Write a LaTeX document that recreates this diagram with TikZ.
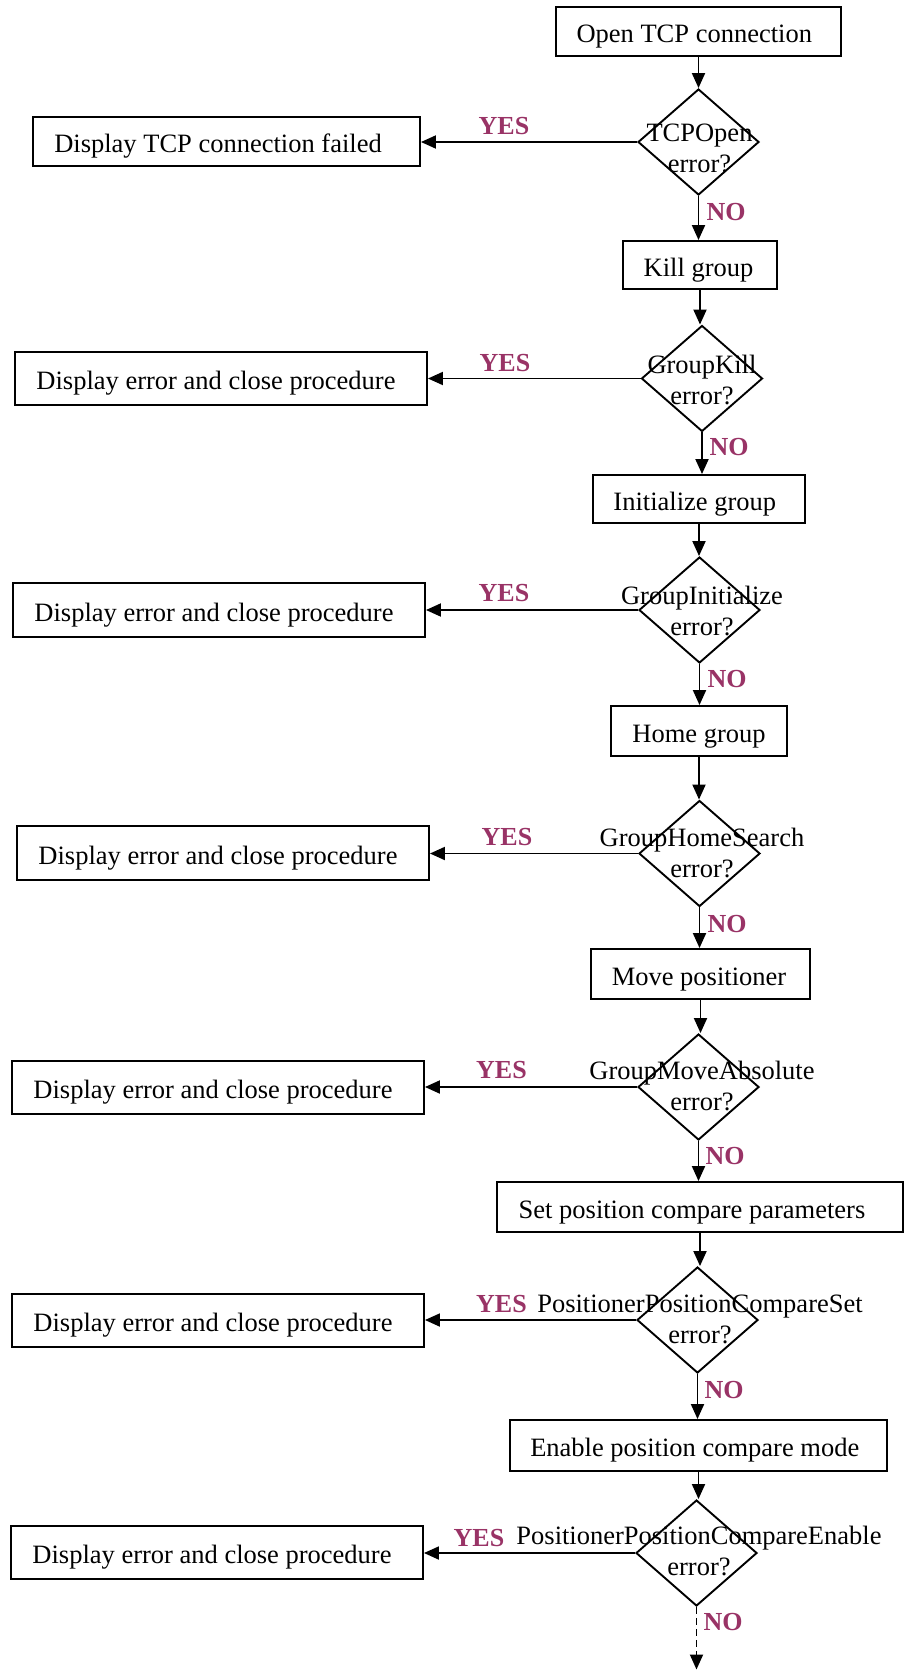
\documentclass[tikz,border=0pt]{standalone}
\usepackage{fontspec}
\setmainfont{Liberation Serif}
\usetikzlibrary{shapes.geometric,arrows.meta}
\definecolor{yn}{HTML}{993366}
\newcommand{\lsh}[1]{\hspace*{#1}}
\tikzset{
  txt/.style={font=\fontsize{26.5}{31}\selectfont},
  box/.style={txt, draw, line width=1.9pt, inner sep=0pt, text height=22pt, text depth=0pt},
  dia/.style={draw, diamond, line width=1.9pt, inner sep=0pt, minimum width=121pt, minimum height=106pt},
  dtext/.style={txt, align=center, inner sep=0pt},
  yn/.style={font=\fontsize{26}{28}\selectfont\bfseries, text=yn, inner sep=0pt},
  arr/.style={line width=1.9pt, -{Triangle[length=15pt,width=13pt]}},
}
\begin{document}
\begin{tikzpicture}[x=1pt,y=-1pt]
\useasboundingbox (0,0) rectangle (904,1670);
% column
\node[box, minimum width=285pt, minimum height=49pt] (b1) at (698.5,31.5) {Open TCP connection\lsh{8.5pt}};
\node[dia] (d1) at (698.5,142) {};
\node[dtext] (t1) at (699.5,148) {TCPOpen\\error?};
\node[box, minimum width=387pt, minimum height=49pt] (f1) at (226.5,141.5) {Display TCP connection failed\lsh{17pt}};
\node[yn] (y1) at (504,126) {YES};
\node[yn] (n1) at (726,212) {NO};

\node[box, minimum width=154pt, minimum height=48pt] (b2) at (700,265) {Kill group\lsh{3pt}};
\node[dia] (d2) at (702,378.5) {};
\node[dtext] (t2) at (702,380) {GroupKill\\error?};
\node[box, minimum width=412pt, minimum height=53pt] (f2) at (221,378.5) {Display error and close procedure\lsh{10pt}};
\node[yn] (y2) at (505,363) {YES};
\node[yn] (n2) at (729,447) {NO};

\node[box, minimum width=212pt, minimum height=48pt] (b3) at (699,499) {Initialize group\lsh{8.5pt}};
\node[dia] (d3) at (699.5,610) {};
\node[dtext] (t3) at (702,611) {GroupInitialize\\error?};
\node[box, minimum width=412pt, minimum height=54pt] (f3) at (219,610) {Display error and close procedure\lsh{10pt}};
\node[yn] (y3) at (504,593) {YES};
\node[yn] (n3) at (727,679) {NO};

\node[box, minimum width=176pt, minimum height=50pt] (b4) at (699,731) {Home group};
\node[dia] (d4) at (699.5,853.5) {};
\node[dtext] (t4) at (702,853) {GroupHomeSearch\\error?};
\node[box, minimum width=412pt, minimum height=54pt] (f4) at (223,853) {Display error and close procedure\lsh{10pt}};
\node[yn] (y4) at (507,837) {YES};
\node[yn] (n4) at (727,924) {NO};

\node[box, minimum width=219pt, minimum height=50pt] (b5) at (700.5,974) {Move positioner\lsh{3pt}};
\node[dia] (d5) at (698.5,1087) {};
\node[dtext] (t5) at (702,1086) {GroupMoveAbsolute\\error?};
\node[box, minimum width=412pt, minimum height=53pt] (f5) at (218,1087.5) {Display error and close procedure\lsh{10pt}};
\node[yn] (y5) at (501.5,1070) {YES};
\node[yn] (n5) at (725,1156) {NO};

\node[box, minimum width=406pt, minimum height=50pt] (b6) at (700,1207) {Set position compare parameters\lsh{16pt}};
\node[dia] (d6) at (697.5,1320) {};
\node[dtext] (t6) at (700,1319) {PositionerPositionCompareSet\\error?};
\node[box, minimum width=412pt, minimum height=53pt] (f6) at (218,1320.5) {Display error and close procedure\lsh{10pt}};
\node[yn] (y6) at (501.5,1304) {YES};
\node[yn] (n6) at (724,1390) {NO};

\node[box, minimum width=377pt, minimum height=51pt] (b7) at (698.5,1445.5) {Enable position compare mode\lsh{7.5pt}};
\node[dia] (d7) at (696.5,1553) {};
\node[dtext] (t7) at (699,1551) {PositionerPositionCompareEnable\\error?};
\node[box, minimum width=412pt, minimum height=53pt] (f7) at (217,1552.5) {Display error and close procedure\lsh{10pt}};
\node[yn] (y7) at (479,1537.5) {YES};
\node[yn] (n7) at (723,1622) {NO};
\coordinate (end) at (696.5,1669.5);

% connectors
\draw[arr] (b1.south) -- (b1.south |- d1.north);
\draw[arr] (d1.west) -- (d1.west -| f1.east);
\draw[arr] (d1.south) -- (d1.south |- b2.north);
\draw[arr] (b2.south) -- (b2.south |- d2.north);
\draw[arr] (d2.west) -- (d2.west -| f2.east);
\draw[arr] (d2.south) -- (d2.south |- b3.north);
\draw[arr] (b3.south) -- (b3.south |- d3.north);
\draw[arr] (d3.west) -- (d3.west -| f3.east);
\draw[arr] (d3.south) -- (d3.south |- b4.north);
\draw[arr] (b4.south) -- (b4.south |- d4.north);
\draw[arr] (d4.west) -- (d4.west -| f4.east);
\draw[arr] (d4.south) -- (d4.south |- b5.north);
\draw[arr] (b5.south) -- (b5.south |- d5.north);
\draw[arr] (d5.west) -- (d5.west -| f5.east);
\draw[arr] (d5.south) -- (d5.south |- b6.north);
\draw[arr] (b6.south) -- (b6.south |- d6.north);
\draw[arr] (d6.west) -- (d6.west -| f6.east);
\draw[arr] (d6.south) -- (d6.south |- b7.north);
\draw[arr] (b7.south) -- (b7.south |- d7.north);
\draw[arr] (d7.west) -- (d7.west -| f7.east);
\draw[arr, dash pattern=on 7pt off 4pt] (d7.south) -- (d7.south |- end);
\end{tikzpicture}
\end{document}
